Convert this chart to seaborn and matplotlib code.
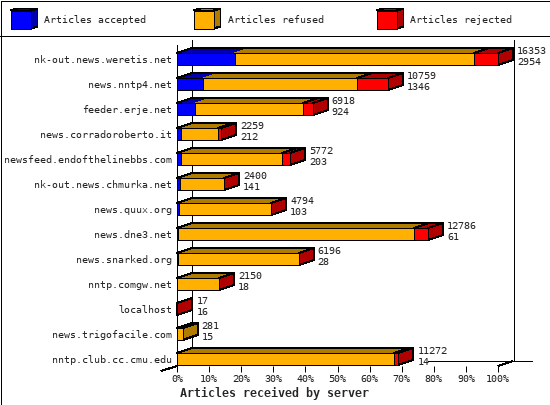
import numpy as np
import pandas as pd
import matplotlib
matplotlib.use("Agg")
import matplotlib.pyplot as plt
from matplotlib.patches import Polygon, Rectangle
import seaborn as sns

servers = ["nk-out.news.weretis.net", "news.nntp4.net", "feeder.erje.net",
           "news.corradoroberto.it", "newsfeed.endofthelinebbs.com",
           "nk-out.news.chmurka.net", "news.quux.org", "news.dne3.net",
           "news.snarked.org", "nntp.comgw.net", "localhost",
           "news.trigofacile.com", "nntp.club.cc.cmu.edu"]
accepted = [2954, 1346, 924, 212, 203, 141, 103, 61, 28, 18, 16, 15, 14]
refused = [12179, 7833, 5514, 1877, 5149, 2249, 4683, 12012, 6163, 2128, 0, 266, 11034]
rejected = [1220, 1580, 480, 170, 420, 10, 8, 713, 5, 4, 1, 0, 224]
totals = [16353, 10759, 6918, 2259, 5772, 2400, 4794, 12786, 6196, 2150, 17, 281, 11272]
pct_ticks = [0, 10, 20, 30, 40, 50, 60, 70, 80, 90, 100]

BLUE, BLUE_D = "#0000FF", "#0000B0"
ORANGE, ORANGE_D = "#FFB000", "#B07C00"
RED, RED_D = "#FF0000", "#B00000"
LW = 0.72  # one pixel at 100 dpi
FS = 7.2

sns.set_style("white")
plt.rcParams["font.family"] = "DejaVu Sans Mono"
plt.rcParams["text.hinting"] = "native"
plt.rcParams["lines.antialiased"] = False

fig = plt.figure(figsize=(5.5, 4.05), dpi=100, facecolor="white")

# chrome drawn in pixel coords
bg = fig.add_axes([0, 0, 1, 1])
bg.set_xlim(0, 550)
bg.set_ylim(405, 0)
bg.axis("off")
for xs, ys in [([0.5, 549.5, 549.5, 0.5, 0.5], [0.5, 0.5, 404.5, 404.5, 0.5]),
               ([0, 550], [35.5, 35.5]),
               ([176.5, 176.5], [45, 371]),
               ([191.5, 191.5], [40, 361]),
               ([513.5, 513.5], [40, 361]),
               ([428, 532], [360.5, 360.5]),
               ([161, 177], [371, 366]),
               ([498, 513], [366, 361])]:
    bg.plot(xs, ys, color="black", lw=LW, solid_capstyle="butt")

# legend
for x0, front, side, label in [(10.5, BLUE, BLUE_D, "Articles accepted"),
                               (193.5, ORANGE, ORANGE_D, "Articles refused"),
                               (376.5, RED, RED_D, "Articles rejected")]:
    bg.add_patch(Polygon([(x0 + 20, 10.5), (x0 + 27, 8.5), (x0 + 27, 26.5), (x0 + 20, 28.5)],
                         fc=side, ec="black", lw=LW, antialiased=False))
    bg.add_patch(Polygon([(x0, 10.5), (x0 + 7, 8.5), (x0 + 27, 8.5), (x0 + 20, 10.5)],
                         fc=side, ec="black", lw=LW, antialiased=False))
    bg.add_patch(Rectangle((x0, 10.5), 20, 18, fc=front, ec="black", lw=LW, antialiased=False))
    bg.text(x0 + 34, 20, label, fontsize=FS, va="center", ha="left")

bg.text(180, 393, "Articles received by server", fontsize=8.4, fontweight="bold",
        va="center", ha="left")

# main axes: 0-100% of largest total across 177..498 px
ax = fig.add_axes([177 / 550, (405 - 366) / 405, 321 / 550, 326 / 405])
ax.patch.set_alpha(0)

df = pd.DataFrame({"server": servers, "accepted": accepted, "refused": refused, "rejected": rejected})
df["c1"] = df["accepted"]
df["c2"] = df["accepted"] + df["refused"]
df["c3"] = df["c2"] + df["rejected"]

bar_h = 0.48
for col, colour in [("c3", RED), ("c2", ORANGE), ("c1", BLUE)]:
    sns.barplot(data=df, y="server", x=col, color=colour, saturation=1, width=bar_h,
                edgecolor="black", linewidth=LW, antialiased=False, ax=ax,
                zorder=5, clip_on=False)

max_total = max(totals)
ax.set_xlim(0, max_total)
ax.set_ylim(12.28, -0.76)
dx = 15 / 321 * max_total
dy = 5 / 25
gap = 4 / 321 * max_total

for i, row in df.iterrows():
    y0 = i - bar_h / 2
    y1 = i + bar_h / 2
    last = BLUE_D
    for a, b, c in [(0, row.c1, BLUE_D), (row.c1, row.c2, ORANGE_D), (row.c2, row.c3, RED_D)]:
        if b > a:
            ax.add_patch(Polygon([(a, y0), (a + dx, y0 - dy), (b + dx, y0 - dy), (b, y0)],
                                 fc=c, ec="none", antialiased=False, zorder=4, clip_on=False))
            last = c
    if row.rejected > 100:
        ax.plot([row.c2, row.c2 + dx], [y0, y0 - dy], color="black", lw=LW, zorder=4.5, clip_on=False)
    end = row.c3
    ax.plot([0, dx, end + dx], [y0, y0 - dy, y0 - dy], color="black", lw=LW, zorder=4.5, clip_on=False)
    ax.add_patch(Polygon([(end, y0), (end + dx, y0 - dy), (end + dx, y1 - dy), (end, y1)],
                         fc=last, ec="black", lw=LW, antialiased=False, zorder=4.6, clip_on=False))
    ax.text(end + dx + gap, i - 0.33, str(totals[i]), fontsize=FS, va="center", ha="left", zorder=6)
    ax.text(end + dx + gap, i + 0.11, str(accepted[i]), fontsize=FS, va="center", ha="left", zorder=6)

sns.despine(ax=ax, left=True, bottom=True, top=True, right=True)
ax.set_xlabel("")
ax.set_ylabel("")
ax.set_xticks([p / 100 * max_total for p in pct_ticks])
ax.set_xticklabels([f"{p}%" for p in pct_ticks], fontsize=FS)
ax.tick_params(axis="x", length=4, width=LW, pad=1.5, color="black", bottom=True)
ax.tick_params(axis="y", length=0, pad=3.5, labelsize=FS)

fig.savefig("out.png", dpi=100)
